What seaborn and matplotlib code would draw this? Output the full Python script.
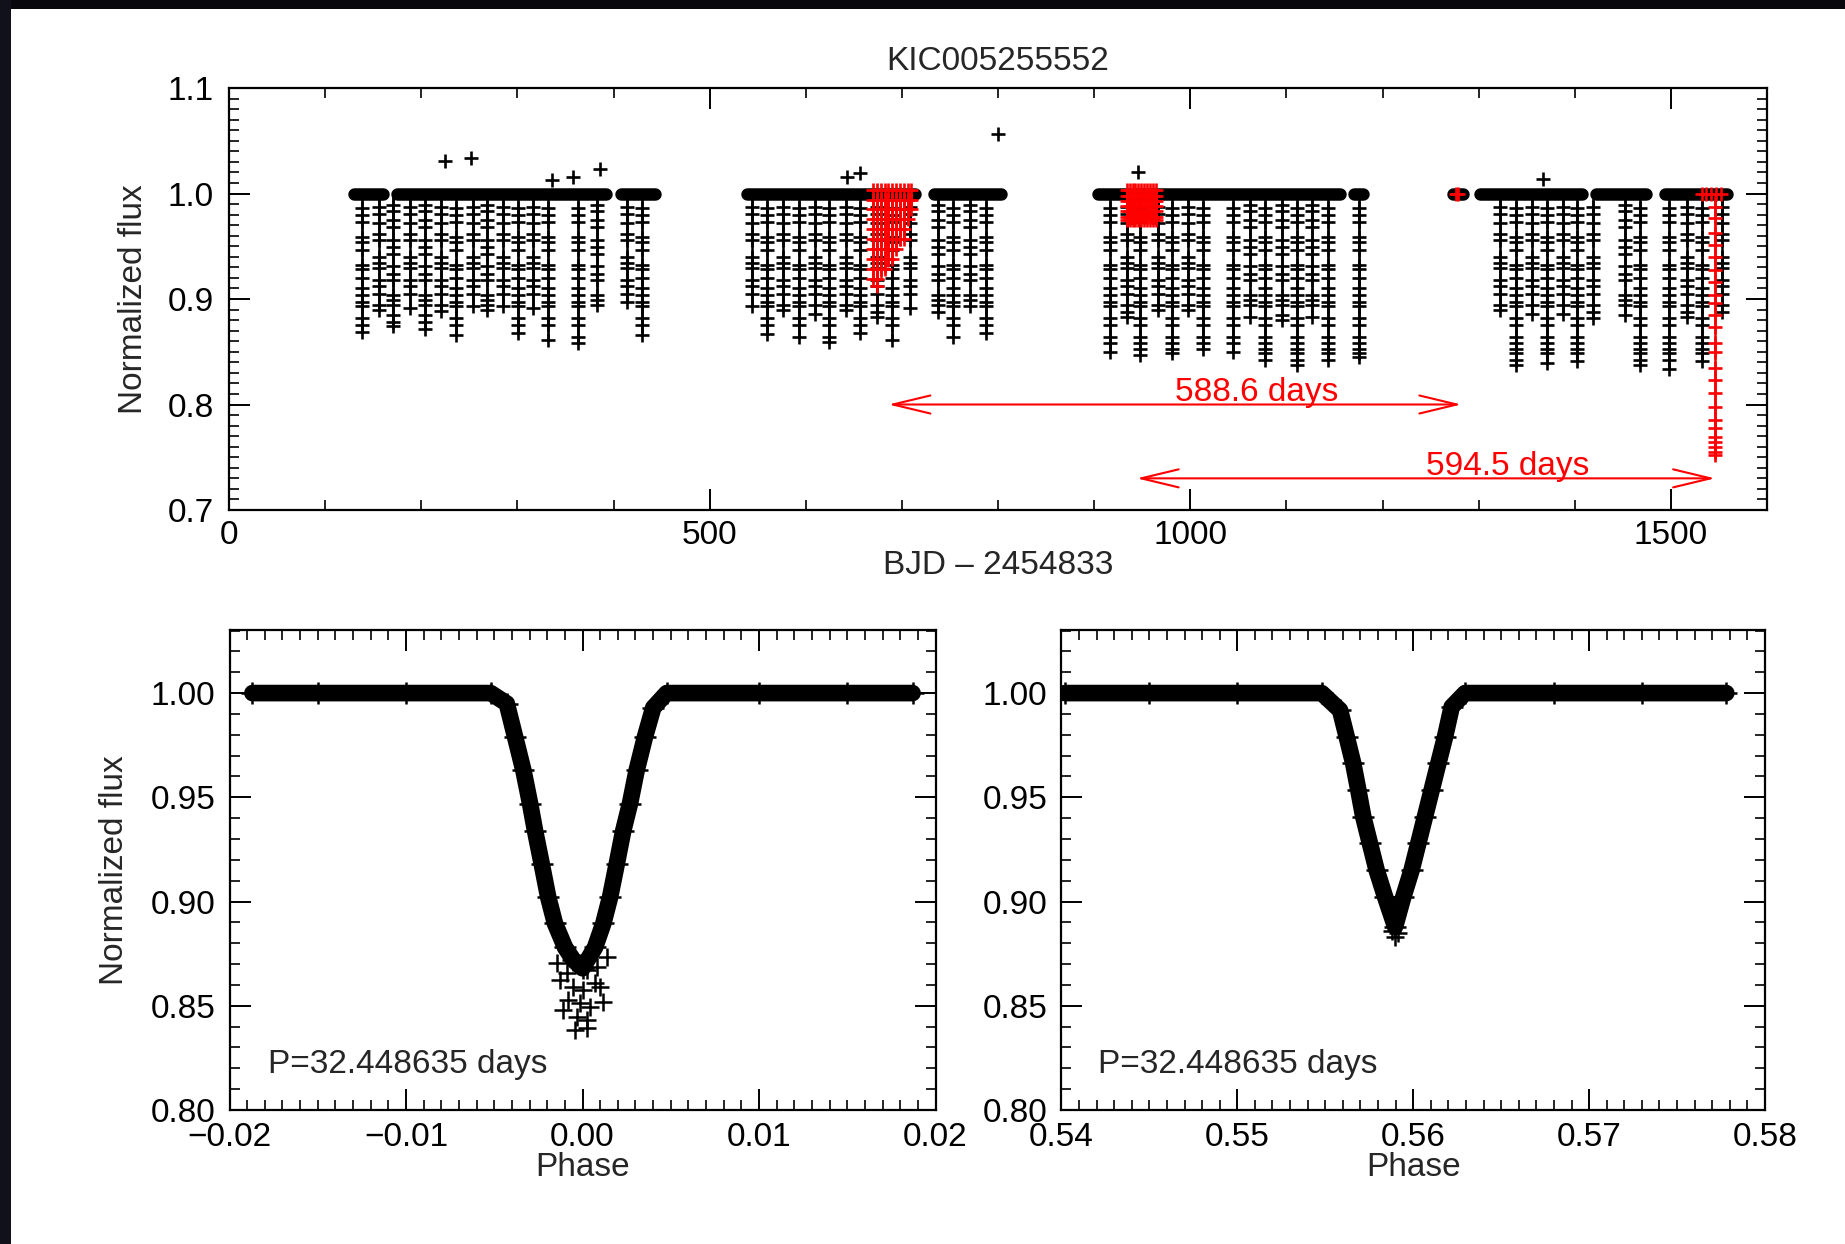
import numpy as np
import pandas as pd
import matplotlib
matplotlib.use("Agg")
import matplotlib.pyplot as plt
import seaborn as sns
from matplotlib.ticker import MultipleLocator, FuncFormatter
from matplotlib.patches import Rectangle

sns.set_theme(style="white")
plt.rcParams["font.family"] = ["Liberation Sans", "DejaVu Sans"]
plt.rcParams["axes.unicode_minus"] = True

# ---------------- data ----------------
title = "KIC005255552"
period_label = "P=32.448635 days"

# observing segments (BJD-2454833) drawn as the flux=1 band
seg_start = [124.0, 168.5, 401.0, 532.0, 727.0, 898.0, 1164.0, 1267.0, 1294.6, 1416.0, 1487.0]
seg_end   = [166.5, 398.5, 450.0, 720.0, 810.0, 1162.0, 1186.0, 1290.0, 1414.0, 1481.0, 1565.0]

# eclipse columns: time and deepest flux
dip_time = [138.0, 156.4, 171.0, 188.3, 204.0, 220.6, 236.0, 254.0, 268.0, 285.4, 301.0,
            316.6, 332.0, 363.4, 382.5, 413.7, 430.0,
            543.8, 560.1, 576.7, 593.0, 609.7, 624.2, 641.9, 656.5, 673.8, 689.4, 708.5,
            738.0, 753.5, 770.9, 787.6,
            916.6, 933.9, 947.8, 966.8, 980.7, 998.0, 1013.6, 1044.9, 1062.2, 1077.8,
            1095.2, 1110.8, 1126.4, 1143.7, 1175.9,
            1322.3, 1339.0, 1355.3, 1370.9, 1387.5, 1402.0, 1419.4, 1452.4, 1468.0,
            1498.4, 1516.5, 1532.1, 1552.9]
dip_min = [0.869, 0.890, 0.874, 0.891, 0.872, 0.889, 0.866, 0.893, 0.890, 0.893, 0.868,
           0.891, 0.861, 0.858, 0.894, 0.897, 0.866,
           0.893, 0.867, 0.890, 0.864, 0.886, 0.859, 0.890, 0.868, 0.883, 0.861, 0.891,
           0.888, 0.864, 0.893, 0.868,
           0.850, 0.883, 0.847, 0.890, 0.849, 0.890, 0.853, 0.850, 0.883, 0.842,
           0.880, 0.837, 0.883, 0.842, 0.845,
           0.890, 0.837, 0.886, 0.839, 0.886, 0.841, 0.882, 0.885, 0.837,
           0.834, 0.883, 0.841, 0.888]

# flux levels of the points inside eclipse columns (read from three columns)
levels_a = [0.989, 0.983, 0.975, 0.968, 0.956, 0.949, 0.943, 0.931, 0.924, 0.918,
            0.904, 0.899, 0.894, 0.885, 0.878, 0.872]
levels_b = [0.987, 0.981, 0.972, 0.962, 0.956, 0.940, 0.934, 0.929, 0.918, 0.912,
            0.905, 0.894, 0.888, 0.877, 0.874]
levels_c = [0.986, 0.980, 0.973, 0.959, 0.954, 0.946, 0.932, 0.928, 0.920, 0.910,
            0.904, 0.897, 0.893, 0.882, 0.875, 0.864, 0.858, 0.853, 0.849, 0.842]

# isolated points above the band
out_time = [224.6, 251.6, 336.4, 358.2, 386.0, 643.0, 656.5, 799.8, 946.0, 1367.0]
out_flux = [1.031, 1.034, 1.013, 1.016, 1.023, 1.016, 1.019, 1.056, 1.020, 1.014]

# red points (third-body events)
red_col_time = [670.0, 674.0, 678.0, 682.0, 686.0, 690.0, 694.0, 698.0, 702.0, 706.0, 710.0]
red_col_min = [0.915, 0.912, 0.920, 0.925, 0.930, 0.935, 0.945, 0.950, 0.955, 0.970, 0.985]
red_levels = [1.003, 0.994, 0.985, 0.976, 0.966, 0.957, 0.947, 0.938, 0.928, 0.919, 0.912]
red_block_time = [934.0, 937.0, 940.0, 943.0, 946.0, 949.0, 952.0, 955.0, 958.0, 961.0, 964.0]
red_block_flux = [1.003, 0.998, 0.993, 0.988, 0.983, 0.978, 0.975]
red_flat_time = [1276.0, 1278.5, 1532.0, 1537.0, 1542.0, 1547.0, 1552.0]
red_deep_time = 1546.0
red_deep_flux = [0.9875, 0.9765, 0.9623, 0.9512, 0.9401, 0.9275, 0.9164, 0.9038, 0.8959,
                 0.8848, 0.8737, 0.8580, 0.8500, 0.8343, 0.8232, 0.8106, 0.7979, 0.7854,
                 0.7775, 0.7695, 0.7648, 0.7601, 0.7553, 0.7521]

# arrows: left end, right end, flux, label, label left x
arrow1 = (686.0, 1282.0, 0.800, "588.6 days", 984.0)
arrow2 = (944.3, 1546.0, 0.730, "594.5 days", 1245.0)

# phase-folded primary eclipse
prim_phase = [-0.0187, -0.0150, -0.0100, -0.0052, -0.00429, -0.00382, -0.00335, -0.00297,
              -0.00269, -0.00231, -0.00194, -0.00156, -0.00099, -0.00052, 0.0000,
              0.00071, 0.00118, 0.00156, 0.00194, 0.00231, 0.00269, 0.00307, 0.00354,
              0.00401, 0.00477, 0.0100, 0.0150, 0.0187]
prim_flux = [1.000, 1.000, 1.000, 1.000, 0.995, 0.979, 0.963, 0.947, 0.934, 0.918, 0.902,
             0.8895, 0.878, 0.872, 0.868, 0.878, 0.8895, 0.902, 0.918, 0.934, 0.947,
             0.963, 0.979, 0.993, 1.000, 1.000, 1.000, 1.000]
prim_scatter_phase = [-0.00014, -0.00090, 0.00024, 0.00080, -0.00128, -0.00052, 0.00005,
                      0.00071, -0.00080, -0.00014, 0.00042, 0.00118, -0.00109, -0.00033,
                      0.00024, -0.00042, 0.00024, 0.00099, -0.00146, 0.00137]
prim_scatter_flux = [0.8704, 0.8656, 0.8671, 0.8687, 0.8624, 0.8592, 0.8576, 0.8608,
                     0.8528, 0.8512, 0.8496, 0.8520, 0.8480, 0.8448, 0.8432, 0.8384,
                     0.8392, 0.8592, 0.8704, 0.8735]

# phase-folded secondary eclipse
sec_phase = [0.5402, 0.5450, 0.5500, 0.5548, 0.55584, 0.55622, 0.55659, 0.55688, 0.55716,
             0.55754, 0.55792, 0.55840, 0.55897, 0.55944, 0.55991, 0.56029, 0.56067,
             0.56105, 0.56143, 0.56181, 0.56219, 0.56295, 0.5680, 0.5730, 0.5778]
sec_flux = [1.000, 1.000, 1.000, 1.000, 0.9918, 0.979, 0.9663, 0.9535, 0.9407, 0.9279,
            0.9151, 0.9023, 0.8880, 0.9023, 0.9151, 0.9279, 0.9407, 0.9535, 0.9663,
            0.979, 0.9934, 1.000, 1.000, 1.000, 1.000]
sec_scatter_phase = [0.55897, 0.55880, 0.55915]
sec_scatter_flux = [0.8831, 0.8860, 0.8850]

# ---------------- build point tables ----------------
rows = []
templates = [levels_a, levels_b]
for i, (t, m) in enumerate(zip(dip_time, dip_min)):
    tpl = levels_c if m < 0.870 else templates[i % 2]
    for lv in tpl:
        if lv > m + 0.003:
            rows.append((t, lv))
    rows.append((t, m))
for t, f in zip(out_time, out_flux):
    rows.append((t, f))
black_df = pd.DataFrame(rows, columns=["time", "flux"])

red_rows = []
for t, m in zip(red_col_time, red_col_min):
    for lv in red_levels:
        if lv >= m - 1e-6:
            red_rows.append((t, lv))
for t in red_block_time:
    for f in red_block_flux:
        red_rows.append((t, f))
for t in red_flat_time:
    red_rows.append((t, 1.0))
for f in red_deep_flux:
    red_rows.append((red_deep_time, f))
red_df = pd.DataFrame(red_rows, columns=["time", "flux"])

# ---------------- figure ----------------
W, H = 1845, 1244
fig = plt.figure(figsize=(W / 100, H / 100), dpi=100)
fig.patch.set_facecolor("white")

ax1 = fig.add_axes([229 / W, 1 - 510 / H, (1767 - 229) / W, 422 / H])
ax2 = fig.add_axes([229.5 / W, 1 - 1110 / H, 706 / W, 480.5 / H])
ax3 = fig.add_axes([1061.4 / W, 1 - 1110 / H, 703.6 / W, 480.5 / H])

FS = 24


def style(ax, xpad, ypad):
    ax.set_facecolor("white")
    ax.grid(False)
    for s in ax.spines.values():
        s.set_visible(True)
        s.set_color("black")
        s.set_linewidth(1.6)
    ax.tick_params(which="both", direction="in", top=True, right=True, bottom=True,
                   left=True, colors="black", labelsize=FS)
    ax.tick_params(which="major", length=15, width=1.4)
    ax.tick_params(which="minor", length=7.2, width=1.2)
    ax.tick_params(axis="x", which="both", pad=xpad)
    ax.tick_params(axis="y", which="both", pad=ypad)


def fmt(d):
    return FuncFormatter(lambda v, p: f"{v:.{d}f}".replace("-", "\u2212"))


# ---- top panel ----
BAND = 9.0  # points
cap = BAND / 2 * 100 / 72 / ((1767 - 229) / 1600)  # half band in data units
for a, b in zip(seg_start, seg_end):
    ax1.plot([a + cap, b - cap], [1.0, 1.0], color="black", lw=BAND,
             solid_capstyle="round", zorder=2)
ax1.vlines(dip_time, dip_min, 1.0, color="black", lw=1.8, zorder=2)
sns.scatterplot(data=black_df, x="time", y="flux", marker="+", s=95, color="black",
                linewidth=1.9, ax=ax1, legend=False, zorder=3)
ax1.vlines(red_col_time, red_col_min, 1.0, color="red", lw=1.8, zorder=4)
ax1.vlines([red_deep_time], min(red_deep_flux), 1.0, color="red", lw=1.8, zorder=4)
sns.scatterplot(data=red_df, x="time", y="flux", marker="+", s=105, color="red",
                linewidth=1.9, ax=ax1, legend=False, zorder=5)

for x0, x1, y, lab, tx in (arrow1, arrow2):
    ax1.annotate("", xy=(x0, y), xytext=(x1, y),
                 arrowprops=dict(arrowstyle="<->,head_length=2.7,head_width=0.65",
                                 color="red", lw=1.5, shrinkA=0, shrinkB=0,
                                 mutation_scale=10), zorder=6)
    ax1.text(tx, y + 0.003, lab, color="red", fontsize=FS, ha="left", va="baseline",
             zorder=6)

ax1.set_xlim(0, 1600)
ax1.set_ylim(0.7, 1.1)
ax1.xaxis.set_major_locator(MultipleLocator(500))
ax1.xaxis.set_minor_locator(MultipleLocator(100))
ax1.yaxis.set_major_locator(MultipleLocator(0.1))
ax1.yaxis.set_minor_locator(MultipleLocator(0.01))
ax1.xaxis.set_major_formatter(fmt(0))
ax1.yaxis.set_major_formatter(fmt(1))
style(ax1, 7, 11)
ax1.set_title(title, fontsize=FS, y=1 + 27 / 422, pad=0, va="center")
ax1.set_xlabel("BJD \u2013 2454833", fontsize=FS, va="center")
ax1.xaxis.set_label_coords(0.5, -(565 - 510) / 422)
ax1.set_ylabel("Normalized flux", fontsize=FS, va="center")
ax1.yaxis.set_label_coords((133 - 229) / 1538, 0.5)


# ---- bottom panels ----
def phase_panel(ax, ph, fl, sph, sfl, xlim, txt_x):
    sns.lineplot(x=ph, y=fl, sort=False, estimator=None, color="black", lw=12,
                 ax=ax, zorder=2)
    ax.lines[-1].set_solid_joinstyle("round")
    ax.lines[-1].set_solid_capstyle("round")
    sns.scatterplot(x=ph, y=fl, marker="+", s=260, color="black", linewidth=1.8,
                    ax=ax, legend=False, zorder=3)
    sns.scatterplot(x=sph, y=sfl, marker="+", s=170, color="black", linewidth=1.8,
                    ax=ax, legend=False, zorder=3)
    ax.set_xlim(*xlim)
    ax.set_ylim(0.80, 1.0305)
    ax.xaxis.set_major_locator(MultipleLocator(0.01))
    ax.xaxis.set_minor_locator(MultipleLocator(0.001))
    ax.yaxis.set_major_locator(MultipleLocator(0.05))
    ax.yaxis.set_minor_locator(MultipleLocator(0.01))
    ax.xaxis.set_major_formatter(fmt(2))
    ax.yaxis.set_major_formatter(fmt(2))
    style(ax, 9, 10)
    ax.text(txt_x, 0.8216, period_label, fontsize=FS, ha="left", va="center")
    ax.set_xlabel("Phase", fontsize=FS, va="center")
    ax.xaxis.set_label_coords(0.5, -(1167.3 - 1110) / 480.5)


phase_panel(ax2, prim_phase, prim_flux, prim_scatter_phase, prim_scatter_flux,
            (-0.02, 0.02), -0.0178)
ax2.set_ylabel("Normalized flux", fontsize=FS, va="center")
ax2.yaxis.set_label_coords((114.7 - 229.5) / 706, 0.5)

phase_panel(ax3, sec_phase, sec_flux, sec_scatter_phase, sec_scatter_flux,
            (0.54, 0.58), 0.54207)
ax3.set_ylabel("")

# dark frame at the top and left edges
fig.patches.append(Rectangle((0, 1 - 9 / H), 1, 9 / H, transform=fig.transFigure,
                             facecolor="#08080c", edgecolor="none", zorder=10))
fig.patches.append(Rectangle((0, 0), 11 / W, 1, transform=fig.transFigure,
                             facecolor="#10111a", edgecolor="none", zorder=10))

fig.savefig("out.png", dpi=100, facecolor="white")
